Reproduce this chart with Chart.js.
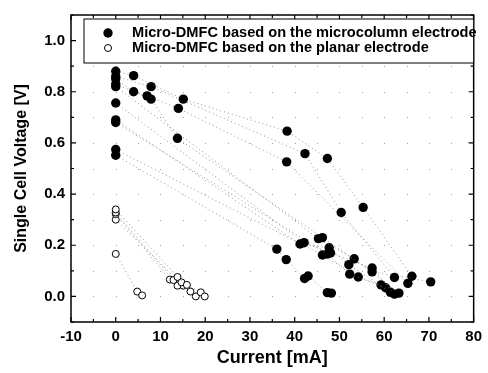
<!DOCTYPE html>
<html>
<head>
<meta charset="utf-8">
<script src="https://cdn.jsdelivr.net/npm/chart.js@4/dist/chart.umd.min.js"></script>
<style>
  html, body { margin: 0; padding: 0; background: #fff; }
  #wrap { width: 488px; height: 373px; }
</style>
</head>
<body>
<div id="wrap"><canvas id="chart" width="488" height="373"></canvas></div>
<script>
// microcolumn electrode curves (current mA / voltage V)
const col1X = [0, 4, 15.1, 38.3, 47.3, 55.3, 66.2];
const col1Y = [0.88, 0.863, 0.771, 0.646, 0.539, 0.348, 0.079];
const col2X = [0, 7.9, 42.3, 50.4, 62.3];
const col2Y = [0.86, 0.82, 0.558, 0.328, 0.074];
const col3X = [0, 4, 7, 14, 38.2, 65.3];
const col3Y = [0.85, 0.80, 0.784, 0.735, 0.526, 0.051];
const col4X = [0, 7.9, 13.8, 46.2, 57.3, 70.4];
const col4Y = [0.83, 0.771, 0.618, 0.23, 0.096, 0.057];
const col5X = [0, 45.3, 53.3, 63.3];
const col5Y = [0.82, 0.226, 0.147, 0.013];
const col6X = [0, 42.1, 48, 57.3, 62.3];
const col6Y = [0.756, 0.21, 0.17, 0.111, 0.009];
const col7X = [0, 41.2, 47.7, 52.1, 61.4];
const col7Y = [0.69, 0.205, 0.19, 0.124, 0.016];
const col8X = [0, 47.3, 52.3, 60.3];
const col8Y = [0.68, 0.166, 0.087, 0.034];
const col9X = [0, 46.2, 54.2, 59.3];
const col9Y = [0.574, 0.162, 0.076, 0.045];
const col10X = [0, 36, 38.1, 42.2, 43, 47.3, 48.2];
const col10Y = [0.552, 0.185, 0.144, 0.07, 0.08, 0.015, 0.013];

// planar electrode curves
const pla1X = [0, 13.8, 15.9, 19, 19.9];
const pla1Y = [0.34, 0.076, 0.045, 0.016, 0.0];
const pla2X = [0, 12.9, 14.7, 16.7, 17.9];
const pla2Y = [0.328, 0.064, 0.055, 0.019, 0.0];
const pla3X = [0, 12.1, 13.8];
const pla3Y = [0.322, 0.066, 0.042];
const pla4X = [0, 15.1];
const pla4Y = [0.30, 0.042];
const pla5X = [0, 4.8, 5.9];
const pla5Y = [0.166, 0.019, 0.004];

const xTicks = [-10, 0, 10, 20, 30, 40, 50, 60, 70, 80];
const yTicks = [0.0, 0.2, 0.4, 0.6, 0.8, 1.0];

const legendLabels = [
  "Micro-DMFC based on the microcolumn electrode",
  "Micro-DMFC based on the planar electrode"
];

function pts(xs, ys) {
  return xs.map((x, i) => ({ x: x, y: ys[i] }));
}

function filledSet(xs, ys) {
  return {
    data: pts(xs, ys),
    showLine: true,
    borderColor: "rgba(120,120,120,0.8)",
    borderWidth: 1,
    borderDash: [1, 3],
    pointRadius: 4.7,
    pointBackgroundColor: "#000",
    pointBorderColor: "#000",
    pointBorderWidth: 0
  };
}

function hollowSet(xs, ys) {
  return {
    data: pts(xs, ys),
    showLine: true,
    borderColor: "rgba(120,120,120,0.8)",
    borderWidth: 1,
    borderDash: [1, 3],
    pointRadius: 3.5,
    pointBackgroundColor: "#fff",
    pointBorderColor: "#000",
    pointBorderWidth: 1
  };
}

const datasets = [
  filledSet(col1X, col1Y), filledSet(col2X, col2Y), filledSet(col3X, col3Y),
  filledSet(col4X, col4Y), filledSet(col5X, col5Y), filledSet(col6X, col6Y),
  filledSet(col7X, col7Y), filledSet(col8X, col8Y), filledSet(col9X, col9Y),
  filledSet(col10X, col10Y),
  hollowSet(pla1X, pla1Y), hollowSet(pla2X, pla2Y), hollowSet(pla3X, pla3Y),
  hollowSet(pla4X, pla4Y), hollowSet(pla5X, pla5Y)
];

// frame, inward ticks, dot grid and boxed legend
const framePlugin = {
  id: "frame",
  beforeDatasetsDraw(chart) {
    const ctx = chart.ctx;
    const xs = chart.scales.x, ys = chart.scales.y;
    ctx.save();
    ctx.fillStyle = "#a0a0a0";
    for (let x = -5; x < 80; x += 5) {
      for (let y = 0; y <= 1.0001; y += 0.1) {
        ctx.fillRect(Math.round(xs.getPixelForValue(x)), Math.round(ys.getPixelForValue(y)), 1, 1);
      }
    }
    ctx.restore();
  },
  afterDraw(chart) {
    const ctx = chart.ctx;
    const a = chart.chartArea;
    const xs = chart.scales.x, ys = chart.scales.y;
    ctx.save();
    ctx.strokeStyle = "#000";
    ctx.lineWidth = 1.5;
    ctx.strokeRect(a.left, a.top, a.right - a.left, a.bottom - a.top);
    ctx.lineWidth = 1.2;
    ctx.beginPath();
    for (let x = -10; x <= 80; x += 5) {
      const px = xs.getPixelForValue(x);
      const len = (x % 10 === 0) ? 5 : 3;
      ctx.moveTo(px, a.bottom); ctx.lineTo(px, a.bottom - len);
      ctx.moveTo(px, a.top); ctx.lineTo(px, a.top + len);
    }
    for (let i = -1; i <= 11; i++) {
      const py = ys.getPixelForValue(i / 10);
      const len = (i % 2 === 0) ? 5 : 3;
      ctx.moveTo(a.left, py); ctx.lineTo(a.left + len, py);
      ctx.moveTo(a.right, py); ctx.lineTo(a.right - len, py);
    }
    ctx.stroke();

    // legend box
    const bx = a.left + 13, by = a.top + 4, bw = a.right - bx, bh = 44;
    ctx.fillStyle = "#fff";
    ctx.fillRect(bx, by, bw, bh);
    ctx.lineWidth = 1;
    ctx.strokeRect(bx, by, bw, bh);
    ctx.font = "bold 14.6px 'Liberation Sans', Arial, sans-serif";
    ctx.textBaseline = "middle";
    ctx.fillStyle = "#000";
    const rows = [by + 14, by + 29];
    ctx.beginPath();
    ctx.arc(bx + 24, rows[0], 4.7, 0, Math.PI * 2);
    ctx.fill();
    ctx.beginPath();
    ctx.arc(bx + 24, rows[1], 3.5, 0, Math.PI * 2);
    ctx.fillStyle = "#fff";
    ctx.fill();
    ctx.stroke();
    ctx.fillStyle = "#000";
    ctx.fillText(legendLabels[0], bx + 48, rows[0]);
    ctx.fillText(legendLabels[1], bx + 48, rows[1]);
    ctx.restore();
  }
};

Chart.defaults.font.family = "'Liberation Sans', Arial, sans-serif";
Chart.defaults.color = "#000";

new Chart(document.getElementById("chart"), {
  type: "scatter",
  data: { datasets: datasets },
  options: {
    responsive: false,
    animation: false,
    layout: { padding: { top: 9, right: 11, left: 0, bottom: 0 } },
    plugins: { legend: { display: false }, tooltip: { enabled: false } },
    scales: {
      x: {
        type: "linear",
        min: -10,
        max: 80,
        grid: { display: false, drawTicks: false },
        border: { display: false },
        afterBuildTicks: (s) => { s.ticks = xTicks.map(v => ({ value: v })); },
        afterFit: (s) => { s.height = 51; },
        ticks: {
          padding: 6,
          font: { size: 15, weight: "bold" },
          callback: (v) => String(v)
        },
        title: {
          display: true,
          text: "Current [mA]",
          font: { size: 18, weight: "bold" },
          padding: { top: 0, bottom: 4 }
        }
      },
      y: {
        type: "linear",
        min: -0.1,
        max: 1.1,
        grid: { display: false, drawTicks: false },
        border: { display: false },
        afterBuildTicks: (s) => { s.ticks = yTicks.map(v => ({ value: v })); },
        afterFit: (s) => { s.width = 71; },
        ticks: {
          padding: 6,
          font: { size: 15, weight: "bold" },
          callback: (v) => Number(v).toFixed(1)
        },
        title: {
          display: true,
          text: "Single Cell Voltage [V]",
          font: { size: 16, weight: "bold" },
          padding: { top: 12, bottom: 0 }
        }
      }
    }
  },
  plugins: [framePlugin]
});
</script>
</body>
</html>
